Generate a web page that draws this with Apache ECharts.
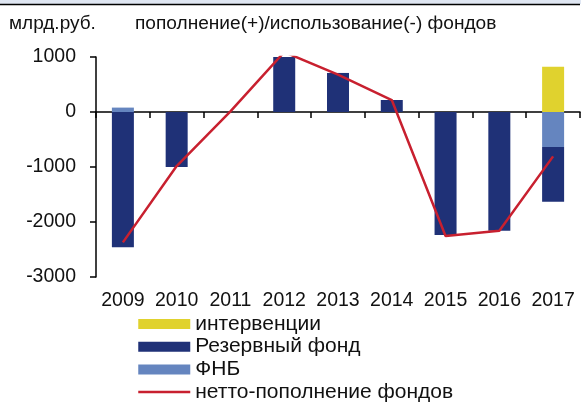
<!DOCTYPE html>
<html>
<head>
<meta charset="utf-8">
<script src="https://cdn.jsdelivr.net/npm/echarts@6/dist/echarts.min.js"></script>
<style>
html,body{margin:0;padding:0;background:#fff;}
#chart{width:581px;height:403px;}
</style>
</head>
<body>
<div id="chart"></div>
<script>
// Data (null = no contribution that year)
var years = ['2009','2010','2011','2012','2013','2014','2015','2016','2017'];
var fnb = [80, null, null, null, null, null, null, null, -636];
var reserveFund = [-2460, -1000, null, 1090, 710, 218, -2236, -2158, -995];
var interventions = [null, null, null, null, null, null, null, null, 824];
var netFlow = [-2370, -982, 10, 1090, 680, 218, -2255, -2158, -807];
var yTicks = {min: -3000, max: 1000, interval: 1000};
var seriesNames = ['интервенции', 'Резервный фонд', 'ФНБ', 'нетто-пополнение фондов'];
var unitLabel = 'млрд.руб.';
var chartTitle = 'пополнение(+)/использование(-) фондов';

var FONT = '"Liberation Sans", Arial, sans-serif';
var chart = echarts.init(document.getElementById('chart'), null, {renderer: 'canvas'});

chart.setOption({
  animation: false,
  backgroundColor: '#ffffff',
  textStyle: {fontFamily: FONT},
  title: [
    {text: unitLabel, left: 9, top: 14, padding: 0, textStyle: {fontFamily: FONT, fontSize: 19, fontWeight: 'normal', color: '#111'}},
    {text: chartTitle, left: 135, top: 14, padding: 0, textStyle: {fontFamily: FONT, fontSize: 19.1, fontWeight: 'normal', color: '#111'}}
  ],
  graphic: [
    {type: 'rect', shape: {x: 0, y: 0, width: 581, height: 4}, style: {fill: '#dfe6f2'}},
    {type: 'line', shape: {x1: 0, y1: 4.5, x2: 580, y2: 4.5}, style: {stroke: '#000', lineWidth: 1.5}}
  ],
  grid: {left: 96, right: 1, top: 57, bottom: 126, containLabel: false},
  legend: {
    orient: 'vertical',
    left: 137,
    top: 313.5,
    height: 160,
    padding: 0,
    itemWidth: 52,
    itemHeight: 10,
    itemGap: 1.7,
    lineStyle: {width: 2.5},
    textStyle: {fontFamily: FONT, fontSize: 21, color: '#111', lineHeight: 20},
    data: [
      {name: seriesNames[0], icon: 'rect'},
      {name: seriesNames[1], icon: 'rect'},
      {name: seriesNames[2], icon: 'rect'},
      {name: seriesNames[3], itemStyle: {color: 'rgba(0,0,0,0)', borderWidth: 0, opacity: 0}}
    ]
  },
  xAxis: [
    {
      type: 'category',
      data: years,
      axisLine: {onZero: true, lineStyle: {color: '#000', width: 1.5}},
      axisTick: {show: true, inside: false, length: 6, lineStyle: {color: '#000', width: 1.5}},
      axisLabel: {show: false},
      splitLine: {show: false}
    },
    {
      type: 'category',
      data: years,
      position: 'bottom',
      axisLine: {show: false, onZero: false},
      axisTick: {show: false},
      axisLabel: {show: true, interval: 0, margin: 14, fontFamily: FONT, fontSize: 19.5, color: '#111', hideOverlap: false},
      splitLine: {show: false}
    }
  ],
  yAxis: {
    type: 'value',
    min: yTicks.min,
    max: yTicks.max,
    interval: yTicks.interval,
    axisLine: {show: true, lineStyle: {color: '#000', width: 1.5}},
    axisTick: {show: true, inside: false, length: 6, lineStyle: {color: '#000', width: 1.5}},
    axisLabel: {margin: 20, fontFamily: FONT, fontSize: 19.5, color: '#111', formatter: function (v) { return String(v); }},
    splitLine: {show: false}
  },
  series: [
    {name: seriesNames[2], type: 'bar', stack: 'funds', data: fnb, barWidth: 22, itemStyle: {color: '#6585bf'}},
    {name: seriesNames[1], type: 'bar', stack: 'funds', data: reserveFund, barWidth: 22, itemStyle: {color: '#1f3177'}},
    {name: seriesNames[0], type: 'bar', stack: 'funds', data: interventions, barWidth: 22, itemStyle: {color: '#e0d22e'}},
    {name: seriesNames[3], type: 'line', data: netFlow, symbol: 'none', lineStyle: {color: '#c8202f', width: 2.5}, itemStyle: {color: '#c8202f'}, z: 5}
  ]
});
</script>
</body>
</html>
